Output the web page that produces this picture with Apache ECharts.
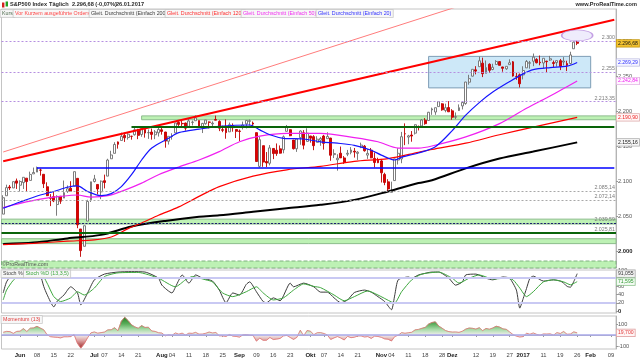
<!DOCTYPE html>
<html>
<head>
<meta charset="utf-8">
<script src="https://cdn.jsdelivr.net/npm/echarts@6/dist/echarts.min.js"></script>
<style>html,body{margin:0;padding:0;background:#fff;}#chart{width:640px;height:360px;}</style>
</head>
<body>
<div id="chart"></div>
<script>
// ---------------- categories (trading days, incl. a few future days) ----------------
const tradingDays = [
  ['2016-05', [24,25,26,27,31]],
  ['2016-06', [1,2,3,6,7,8,9,10,13,14,15,16,17,20,21,22,23,24,27,28,29,30]],
  ['2016-07', [1,5,6,7,8,11,12,13,14,15,18,19,20,21,22,25,26,27,28,29]],
  ['2016-08', [1,2,3,4,5,8,9,10,11,12,15,16,17,18,19,22,23,24,25,26,29,30,31]],
  ['2016-09', [1,2,6,7,8,9,12,13,14,15,16,19,20,21,22,23,26,27,28,29,30]],
  ['2016-10', [3,4,5,6,7,10,11,12,13,14,17,18,19,20,21,24,25,26,27,28,31]],
  ['2016-11', [1,2,3,4,7,8,9,10,11,14,15,16,17,18,21,22,23,25,28,29,30]],
  ['2016-12', [1,2,5,6,7,8,9,12,13,14,15,16,19,20,21,22,23,27,28,29,30]],
  ['2017-01', [3,4,5,6,9,10,11,12,13,17,18,19,20,23,24,25,26,27,30,31]],
  ['2017-02', [1,2,3,6,7,8,9,10]]
];
const dates = tradingDays.flatMap(([m, ds]) => ds.map(d => m + '-' + String(d).padStart(2, '0')));

const xLabels = {
  '2016-06-01':'Jun','2016-06-08':'08','2016-06-15':'15','2016-06-22':'22',
  '2016-07-01':'Jul','2016-07-07':'07','2016-07-14':'14','2016-07-21':'21',
  '2016-08-01':'Aug','2016-08-04':'04','2016-08-11':'11','2016-08-18':'18','2016-08-25':'25',
  '2016-09-01':'Sep','2016-09-09':'09','2016-09-16':'16','2016-09-23':'23',
  '2016-10-03':'Okt','2016-10-07':'07','2016-10-14':'14','2016-10-21':'21',
  '2016-11-01':'Nov','2016-11-04':'04','2016-11-11':'11','2016-11-18':'18','2016-11-28':'28',
  '2016-12-01':'Dez','2016-12-12':'12','2016-12-19':'19','2016-12-27':'27',
  '2017-01-03':'2017','2017-01-11':'11','2017-01-19':'19','2017-01-26':'26',
  '2017-02-01':'Feb','2017-02-09':'09'
};
const monthLabels = ['Jun','Jul','Aug','Sep','Okt','Nov','Dez','2017','Feb'];

// ---------------- price data: [open, high, low, close] ----------------
const ohlc = [
[2052.65,2079.67,2052.65,2076.06],[2078.93,2094.73,2078.93,2090.54],[2091.44,2094.30,2087.08,2090.10],[2090.06,2099.06,2090.06,2099.06],[2100.13,2103.48,2088.66,2096.95],
[2093.94,2100.97,2085.10,2099.33],[2097.71,2105.26,2088.59,2105.26],[2104.07,2104.07,2085.36,2099.13],[2100.83,2113.36,2100.83,2109.41],[2110.18,2119.22,2110.18,2112.13],
[2112.71,2120.55,2112.71,2119.12],[2115.65,2117.64,2107.73,2115.48],[2109.57,2109.57,2089.96,2096.07],[2091.75,2098.12,2078.46,2079.06],[2076.65,2081.30,2064.10,2075.32],
[2077.60,2085.65,2069.80,2071.50],[2066.36,2079.62,2050.37,2077.99],[2078.20,2078.20,2067.31,2071.22],[2075.58,2100.66,2075.58,2083.25],[2085.19,2093.66,2083.02,2088.90],
[2089.75,2099.71,2084.36,2085.45],[2092.80,2113.32,2092.80,2113.32],[2103.81,2103.81,2032.57,2037.41],[2031.45,2031.45,1991.68,2000.54],[2006.67,2036.09,2006.67,2036.09],
[2042.69,2073.13,2042.69,2070.77],[2073.17,2098.94,2070.00,2098.86],
[2099.34,2108.71,2097.90,2102.95],[2095.05,2095.05,2080.86,2088.55],[2084.43,2100.72,2074.02,2099.73],[2100.42,2109.08,2089.39,2097.90],[2106.97,2131.71,2106.97,2129.90],
[2131.72,2143.16,2131.72,2137.16],[2139.50,2155.40,2139.50,2152.14],[2155.81,2156.45,2146.21,2152.43],[2157.88,2169.05,2157.88,2163.75],[2165.13,2169.05,2155.79,2161.74],
[2162.04,2168.35,2159.07,2166.89],[2163.79,2164.63,2159.01,2163.78],[2166.10,2175.63,2164.89,2173.02],[2172.91,2174.56,2159.75,2165.17],[2166.47,2175.11,2163.24,2175.03],
[2173.71,2173.71,2161.95,2168.48],[2168.97,2173.54,2160.18,2169.18],[2169.81,2174.98,2159.07,2166.58],[2166.05,2172.85,2159.74,2170.06],[2168.83,2177.09,2163.49,2173.60],
[2173.15,2178.29,2166.21,2170.84],[2169.94,2170.20,2147.58,2157.03],[2156.81,2163.79,2152.02,2163.79],[2163.51,2168.19,2159.07,2164.25],[2168.79,2182.87,2168.79,2182.87],
[2183.76,2185.44,2177.85,2180.89],[2182.24,2187.66,2178.61,2181.74],[2182.81,2183.41,2172.00,2175.49],[2177.97,2188.45,2177.97,2185.79],[2183.74,2186.28,2179.42,2184.05],
[2186.08,2193.81,2186.08,2190.15],[2186.24,2186.24,2178.14,2178.15],[2177.84,2183.08,2168.50,2182.22],[2181.90,2187.03,2180.46,2187.02],[2184.24,2185.00,2175.13,2183.87],
[2181.58,2185.15,2175.96,2182.64],[2187.81,2193.42,2186.80,2186.90],[2185.09,2186.66,2171.25,2175.44],[2173.29,2179.00,2169.74,2172.47],[2175.10,2187.94,2160.39,2169.04],
[2170.19,2183.48,2170.19,2180.38],[2179.45,2182.27,2170.41,2176.12],[2173.56,2173.79,2161.35,2170.95],
[2171.33,2173.56,2157.09,2170.86],[2177.49,2184.87,2173.59,2179.98],[2181.61,2186.57,2175.10,2186.48],[2185.17,2187.87,2179.07,2186.16],[2182.76,2184.94,2177.49,2181.30],
[2169.08,2169.08,2127.81,2127.81],[2120.86,2163.30,2119.12,2159.04],[2150.47,2150.47,2120.27,2127.02],[2127.86,2141.33,2119.90,2125.77],[2125.36,2151.31,2122.36,2147.26],
[2146.48,2146.48,2131.20,2139.16],[2143.99,2153.61,2135.91,2139.12],[2145.94,2150.80,2139.17,2139.76],[2144.58,2165.11,2139.57,2163.12],[2170.94,2179.99,2170.94,2177.18],
[2173.29,2173.75,2163.97,2164.69],[2158.54,2158.54,2145.04,2146.10],[2146.04,2161.13,2141.55,2159.93],[2161.85,2172.40,2151.79,2171.37],[2168.90,2172.67,2145.20,2151.13],
[2156.51,2175.30,2156.51,2168.27],
[2164.33,2164.41,2154.77,2161.20],[2163.37,2165.46,2144.01,2150.49],[2155.15,2163.95,2155.15,2159.73],[2158.22,2162.93,2150.28,2160.77],[2164.19,2165.86,2144.85,2153.74],
[2160.39,2169.60,2160.39,2163.66],[2161.35,2161.56,2128.84,2136.73],[2137.67,2145.36,2132.77,2139.18],[2130.26,2138.19,2114.72,2132.55],[2139.68,2149.19,2132.98,2132.98],
[2132.95,2135.61,2124.43,2126.50],[2138.31,2144.38,2135.49,2139.60],[2140.81,2148.44,2138.15,2144.29],[2142.51,2147.18,2133.44,2141.34],[2139.43,2142.63,2130.09,2141.16],
[2148.50,2154.79,2146.91,2151.33],[2149.72,2151.44,2141.93,2143.16],[2136.97,2145.73,2131.59,2139.43],[2144.06,2147.13,2132.52,2133.04],[2132.23,2140.72,2119.36,2126.41],
[2129.78,2133.25,2125.53,2126.15],
[2128.68,2131.45,2097.85,2111.72],[2109.43,2111.76,2094.00,2097.94],[2098.80,2102.56,2085.23,2088.66],[2083.79,2099.07,2083.79,2085.18],[2100.59,2132.00,2100.59,2131.52],
[2129.92,2146.87,2123.56,2139.56],[2131.56,2170.10,2125.35,2163.26],[2167.49,2182.30,2151.17,2167.48],[2162.71,2165.92,2152.49,2164.45],[2165.64,2171.36,2156.08,2164.20],
[2168.29,2180.84,2166.38,2180.39],[2177.53,2179.22,2172.20,2176.94],[2178.61,2188.06,2176.65,2187.12],[2186.85,2189.89,2180.38,2181.90],[2186.43,2198.70,2186.43,2198.18],
[2201.56,2204.80,2194.51,2202.94],[2198.55,2204.72,2194.51,2204.72],[2206.27,2213.35,2206.27,2213.35],[2210.21,2211.14,2200.36,2201.72],[2200.76,2210.46,2198.15,2204.66],
[2204.97,2214.10,2198.81,2198.81],
[2200.17,2202.60,2187.44,2191.08],[2191.12,2197.95,2188.37,2191.95],[2200.65,2209.42,2199.97,2204.71],[2207.26,2212.78,2202.21,2212.23],[2210.72,2241.63,2208.93,2241.35],
[2241.13,2251.69,2237.57,2246.19],[2249.73,2259.80,2249.23,2259.53],[2258.83,2264.03,2252.37,2256.96],[2263.32,2277.53,2263.32,2271.72],[2268.35,2276.20,2248.44,2253.28],
[2253.77,2272.12,2253.77,2262.03],[2266.81,2268.05,2254.24,2258.07],[2259.24,2267.47,2258.21,2262.53],[2266.50,2272.56,2266.14,2270.76],[2270.54,2271.23,2265.15,2265.18],
[2262.93,2263.18,2256.08,2260.96],[2260.25,2263.79,2258.84,2263.79],[2266.23,2273.82,2266.15,2268.88],[2270.23,2271.31,2249.11,2249.92],[2249.50,2254.51,2244.56,2249.26],
[2251.61,2253.58,2233.62,2238.83],
[2251.57,2263.88,2245.13,2257.83],[2261.60,2272.82,2261.60,2270.75],[2268.18,2271.50,2260.45,2269.00],[2271.14,2282.10,2264.06,2276.98],[2273.59,2275.49,2268.04,2268.90],
[2269.72,2279.27,2265.27,2268.90],[2268.60,2275.32,2260.83,2275.32],[2271.14,2271.78,2254.25,2270.44],[2272.74,2278.68,2271.51,2274.64],[2269.14,2272.08,2262.81,2267.89],
[2269.14,2272.01,2263.35,2271.89],[2271.90,2274.33,2258.41,2263.69],[2269.96,2276.96,2265.01,2271.31],[2267.78,2271.78,2257.02,2265.20],[2267.88,2284.63,2266.68,2280.07],
[2288.88,2299.55,2288.88,2298.37],[2298.63,2300.99,2294.08,2296.68]
];

// ---------------- moving averages ----------------
const sma20 = [['2016-05-24',2061],['2016-06-01',2070],['2016-06-09',2080],['2016-06-15',2085],['2016-06-21',2091],['2016-06-24',2093],['2016-06-29',2085],['2016-07-06',2079],['2016-07-11',2082],['2016-07-14',2092],['2016-07-19',2109],['2016-07-22',2130],['2016-07-27',2147],['2016-08-03',2161],['2016-08-08',2169],['2016-08-16',2174],['2016-08-24',2178],['2016-09-07',2180],['2016-09-12',2173],['2016-09-15',2166],['2016-09-21',2161],['2016-09-29',2160],['2016-10-06',2156],['2016-10-13',2154],['2016-10-20',2151],['2016-10-27',2144],['2016-11-01',2137],['2016-11-07',2130],['2016-11-09',2134],['2016-11-16',2140],['2016-11-23',2149],['2016-12-01',2172],['2016-12-07',2194],['2016-12-13',2212],['2016-12-19',2227],['2016-12-27',2242],['2017-01-03',2253],['2017-01-06',2259],['2017-01-13',2262],['2017-01-23',2264],['2017-01-26',2269.29]];
const sma50 = [['2016-05-24',2062],['2016-06-01',2068],['2016-06-09',2074],['2016-06-17',2078],['2016-06-24',2080],['2016-06-30',2077],['2016-07-08',2079],['2016-07-15',2087],['2016-07-22',2097],['2016-07-29',2109],['2016-08-08',2120],['2016-08-16',2130],['2016-08-24',2142],['2016-09-01',2156],['2016-09-12',2164],['2016-09-22',2168],['2016-10-06',2168],['2016-10-20',2162],['2016-10-31',2156],['2016-11-08',2147],['2016-11-16',2147],['2016-11-22',2150],['2016-12-07',2163],['2016-12-21',2182],['2017-01-04',2204],['2017-01-12',2219],['2017-01-20',2232],['2017-01-26',2242.84]];
const sma120 = [['2016-05-24',2009],['2016-06-07',2011],['2016-06-21',2014],['2016-07-01',2016],['2016-07-11',2020],['2016-07-18',2032],['2016-07-22',2040],['2016-07-29',2051],['2016-08-08',2063],['2016-08-16',2078],['2016-08-24',2092],['2016-09-08',2107],['2016-09-22',2116],['2016-10-06',2121],['2016-10-20',2128],['2016-11-03',2132],['2016-11-16',2141],['2016-11-22',2145],['2016-12-07',2154],['2016-12-21',2166],['2017-01-06',2177],['2017-01-26',2190.90]];
const sma200 = [['2016-05-24',2010],['2016-06-07',2012],['2016-06-21',2018],['2016-07-06',2023],['2016-07-19',2035],['2016-08-02',2043],['2016-08-16',2049],['2016-08-24',2051],['2016-09-08',2056],['2016-09-22',2061],['2016-10-06',2066],['2016-10-20',2073],['2016-11-03',2085],['2016-11-16',2097],['2016-11-22',2101],['2016-12-07',2118],['2016-12-21',2132],['2017-01-06',2142],['2017-01-26',2155.16]];

// ---------------- drawn objects (trend lines, levels, zones) ----------------
const trendThick = [['2016-05-24',2128.1],['2017-02-10',2330.4]];
const trendThin  = [['2016-05-24',2141.4],['2016-12-27',2373.0]];
const ellipsePoint = [['2017-01-26',2308]];
const dottedLevels = [2300, 2255, 2213.35];
const greyLevels = [2085.14, 2072.14];
const navyLevel = 2039.59;
const greenLevel = 2025.81;
const blueLine = {from:'2016-06-08', value:2119};
const greenLine = {from:'2016-07-19', value:2177};
const bandA = {from:'2016-07-22', low:2187.5, high:2193};
const fullBands = [[2038.5,2045.5],[2010.5,2017.5]];
const bottomBand = [1975.7,1985.7];
const blueBox = {from:'2016-11-21', to:'2017-02-01', low:2233, high:2278};

// ---------------- indicators ----------------
const stochK = [['2016-05-24',44],['2016-05-25',71],['2016-05-27',93],['2016-06-01',97],['2016-06-06',97],['2016-06-08',95],['2016-06-09',88],['2016-06-10',60],['2016-06-13',40],['2016-06-15',10],['2016-06-16',24],['2016-06-20',39],['2016-06-22',59],['2016-06-24',44],['2016-06-27',15],['2016-06-29',44],['2016-07-01',76],['2016-07-07',90],['2016-07-13',95],['2016-07-19',96],['2016-07-25',95],['2016-07-29',80],['2016-08-01',63],['2016-08-04',44],['2016-08-05',58],['2016-08-08',75],['2016-08-09',88],['2016-08-11',68],['2016-08-15',88],['2016-08-17',80],['2016-08-22',73],['2016-08-24',51],['2016-08-26',20],['2016-08-30',44],['2016-09-01',39],['2016-09-06',65],['2016-09-07',71],['2016-09-09',47],['2016-09-13',23],['2016-09-14',20],['2016-09-16',32],['2016-09-20',25],['2016-09-23',68],['2016-09-26',59],['2016-09-29',68],['2016-10-04',59],['2016-10-06',46],['2016-10-10',46],['2016-10-12',32],['2016-10-14',20],['2016-10-18',27],['2016-10-20',45],['2016-10-25',51],['2016-10-27',46],['2016-10-31',35],['2016-11-02',23],['2016-11-04',3],['2016-11-07',40],['2016-11-08',76],['2016-11-11',83],['2016-11-14',80],['2016-11-16',88],['2016-11-17',90],['2016-11-22',95],['2016-11-25',95],['2016-11-30',80],['2016-12-02',63],['2016-12-06',71],['2016-12-07',88],['2016-12-12',90],['2016-12-15',80],['2016-12-19',76],['2016-12-22',83],['2016-12-27',80],['2016-12-29',51],['2016-12-30',7],['2017-01-03',30],['2017-01-04',55],['2017-01-05',80],['2017-01-06',85],['2017-01-11',73],['2017-01-17',76],['2017-01-19',73],['2017-01-20',68],['2017-01-23',60],['2017-01-24',58],['2017-01-25',72],['2017-01-26',91.055]];
const stochD = [['2016-05-24',27],['2016-05-25',51],['2016-05-27',75],['2016-06-01',88],['2016-06-06',95],['2016-06-09',94],['2016-06-13',68],['2016-06-15',35],['2016-06-17',23],['2016-06-22',32],['2016-06-24',47],['2016-06-28',39],['2016-07-01',56],['2016-07-07',84],['2016-07-13',93],['2016-07-21',94],['2016-07-29',80],['2016-08-05',59],['2016-08-10',76],['2016-08-12',84],['2016-08-18',76],['2016-08-22',71],['2016-08-25',44],['2016-08-30',35],['2016-09-06',47],['2016-09-09',59],['2016-09-13',44],['2016-09-16',27],['2016-09-21',32],['2016-09-26',51],['2016-09-29',66],['2016-10-04',60],['2016-10-06',57],['2016-10-12',39],['2016-10-17',25],['2016-10-20',35],['2016-10-26',49],['2016-10-31',39],['2016-11-04',22],['2016-11-07',20],['2016-11-09',47],['2016-11-14',76],['2016-11-17',90],['2016-11-25',95],['2016-12-01',80],['2016-12-05',68],['2016-12-08',80],['2016-12-13',88],['2016-12-19',78],['2016-12-23',80],['2016-12-28',76],['2016-12-30',56],['2017-01-04',35],['2017-01-06',47],['2017-01-11',71],['2017-01-17',76],['2017-01-20',71],['2017-01-24',64],['2017-01-26',71.595]];
const momentum = [
25,33,31,15,33,35,59,32,62,65,79,63,48,
3,-15,-19,-21,-26,-16,-16,-14,4,-75,
-119,-79,-25,20,28,17,22,27,47,48,
67,39,126,161,131,93,74,62,86,69,
71,37,33,21,18,-7,2,-3,19,8,
17,0,17,15,24,8,9,16,27,19,
23,-7,-8,-13,5,-10,-13,-19,2,4,
-1,-3,-55,-28,-48,-47,-22,-41,-37,-31,
-8,-3,-22,-40,-21,44,-8,41,35,3,
21,22,14,1,-40,-26,-14,-27,-45,-12,
-24,-20,-9,-8,-18,-14,-31,-10,-13,-21,
-35,-38,-54,-13,-2,22,16,21,25,47,
51,61,70,100,114,120,82,62,41,31,
27,28,24,35,54,64,61,54,67,40,
60,53,64,80,73,56,52,28,4,-10,
-18,-14,17,7,19,6,-2,10,9,11,
-1,22,14,32,7,9,29,19.7
];

// ---------------- axis ticks ----------------
const priceTicks = [2000,2050,2100,2150,2200,2250,2300];
const stochTicks = [0,20,40,60,80,100];
const momTicks = [-100,0,100];

// ---------------- helpers ----------------
const FONT = '"Liberation Sans", Arial, sans-serif';
function de(v, d) {
  const s = Math.abs(v).toFixed(d);
  const parts = s.split('.');
  const ip = parts[0].replace(/\B(?=(\d{3})+(?!\d))/g, '.');
  return (v < 0 ? '-' : '') + ip + (parts[1] ? ',' + parts[1] : '');
}
const lastDate = dates[dates.length - 1];
const candleData = ohlc.map(r => [r[0], r[3], r[2], r[1]]);
const lastClose = ohlc[ohlc.length - 1][3];
const lastOf = arr => arr[arr.length - 1][1];

function levelLine(value, color, type, width, decimals) {
  return { yAxis: value, lineStyle: {color: color, type: type, width: width},
    label: {show: true, position: 'insideEndTop', formatter: de(value, decimals), color: '#7a7a7a', fontSize: 5.3, distance: 1, fontFamily: FONT} };
}
function valueBox(value, text, color, bg, border) {
  return { yAxis: value, lineStyle: {color: 'rgba(0,0,0,0)', width: 0.1},
    label: {show: true, position: 'end', formatter: text, color: color, backgroundColor: bg, borderColor: border, borderWidth: 0.8,
      padding: [1.2, 1.2, 0.4, 1.2], fontSize: 5.1, distance: 0.8, fontFamily: FONT} };
}
function xAxisCfg(gi, show) {
  const isLbl = (i, v) => Object.prototype.hasOwnProperty.call(xLabels, v);
  return {
    type: 'category', gridIndex: gi, data: dates, boundaryGap: true, show: show,
    axisLine: {show: show, lineStyle: {color: '#b4b4b4'}},
    axisTick: {show: show, interval: isLbl, alignWithLabel: true, length: 2, lineStyle: {color: '#999'}},
    axisLabel: {show: show, interval: isLbl, hideOverlap: false, margin: 3, fontSize: 5.8, color: '#444', fontFamily: FONT,
      formatter: v => { const t = xLabels[v]; return monthLabels.indexOf(t) >= 0 ? '{b|' + t + '}' : t; },
      rich: {b: {fontWeight: 'bold', fontSize: 6, color: '#222', fontFamily: FONT}}},
    splitLine: {show: false}
  };
}
function yAxisCfg(gi, min, max, ticks, fmt) {
  return {
    type: 'value', gridIndex: gi, position: 'right', min: min, max: max,
    axisLine: {show: true, lineStyle: {color: '#b4b4b4'}},
    axisTick: {show: true, customValues: ticks, length: 2, lineStyle: {color: '#999'}},
    axisLabel: {customValues: ticks, formatter: fmt, fontSize: 5.6, color: '#555', margin: 2, fontFamily: FONT,
      rich: {b: {fontWeight: 'bold', fontSize: 5.8, color: '#222', fontFamily: FONT}}},
    splitLine: {show: false}
  };
}
function txt(x, y, text, fill, opt) {
  opt = opt || {};
  const st = {text: text, fill: fill, font: opt.font || ('5.3px ' + FONT), verticalAlign: 'middle', align: opt.align || 'left'};
  if (opt.box) { st.backgroundColor = opt.bg || '#f7f7f7'; st.borderColor = opt.border || '#c8c8c8'; st.borderWidth = 0.8; st.padding = [1.2, 1.5, 0.6, 1.5]; }
  return {type: 'text', x: x, y: y, z: 100, silent: true, style: st};
}

const gridBase = {left: 1.5, right: 24, show: true, backgroundColor: '#fff', borderColor: '#c4c4c4', borderWidth: 1, outerBoundsMode: 'none'};

const option = {
  animation: false,
  backgroundColor: '#fff',
  textStyle: {fontFamily: FONT},
  grid: [
    Object.assign({}, gridBase, {top: 9, height: 259}),
    Object.assign({}, gridBase, {top: 270, height: 43}),
    Object.assign({}, gridBase, {top: 316, height: 33})
  ],
  xAxis: [xAxisCfg(0, false), xAxisCfg(1, false), xAxisCfg(2, true)],
  yAxis: [
    yAxisCfg(0, 1975.7, 2345.7, priceTicks, v => v === 2000 ? '{b|' + de(v, 0) + '}' : de(v, 0)),
    yAxisCfg(1, -4.9, 100, stochTicks, v => v === 0 ? '{b|0}' : String(v)),
    yAxisCfg(2, -127, 173, momTicks, v => String(v))
  ],
  visualMap: [{
    show: false, type: 'continuous', seriesIndex: 11, min: -150, max: 150,
    inRange: {color: ['#8c2424', '#b04a4a', '#dca2a2', '#f2eeee', '#a9dca9', '#5cae5c', '#2e8a2e']}
  }],
  series: [
    { // 0: zones and levels (marker carrier)
      type: 'line', xAxisIndex: 0, yAxisIndex: 0, data: [], silent: true, z: 1,
      markArea: {
        silent: true, label: {show: false},
        itemStyle: {color: '#bdf1b4', borderColor: '#8cbc8c', borderWidth: 1},
        data: [
          [{xAxis: bandA.from, yAxis: bandA.low}, {yAxis: bandA.high}],
          [{yAxis: fullBands[0][0]}, {yAxis: fullBands[0][1]}],
          [{yAxis: fullBands[1][0]}, {yAxis: fullBands[1][1]}],
          [{yAxis: bottomBand[0], itemStyle: {borderType: 'dashed', borderColor: '#7fb07f'}}, {yAxis: bottomBand[1]}],
          [{xAxis: blueBox.from, yAxis: blueBox.low, itemStyle: {color: '#cde8f8', borderColor: '#7e9db6'}}, {xAxis: blueBox.to, yAxis: blueBox.high}]
        ]
      },
      markLine: {
        silent: true, symbol: ['none', 'none'], label: {show: false},
        data: [
          levelLine(dottedLevels[0], '#b58fe0', [2, 2], 1, 0),
          levelLine(dottedLevels[1], '#b58fe0', [2, 2], 1, 0),
          levelLine(dottedLevels[2], '#b58fe0', [2, 2], 1, 2),
          levelLine(greyLevels[0], '#a8a8a8', [2, 2], 1, 2),
          levelLine(greyLevels[1], '#a8a8a8', [2, 2], 1, 2),
          levelLine(navyLevel, '#1c1c70', [2, 1.5], 1.2, 2),
          levelLine(greenLevel, '#0a640a', 'solid', 2, 2),
          [{coord: [blueLine.from, blueLine.value], lineStyle: {color: '#0000ff', width: 1.5, type: 'solid'}}, {coord: [lastDate, blueLine.value]}],
          [{coord: [greenLine.from, greenLine.value], lineStyle: {color: '#0a640a', width: 2, type: 'solid'}}, {coord: [lastDate, greenLine.value]}],
          valueBox(lastClose, de(lastClose, 2), '#111', '#f2c230', '#c89a10'),
          valueBox(lastOf(sma20), de(lastOf(sma20), 2), '#2b2bff', '#f6f6ff', '#b8b8e0'),
          valueBox(lastOf(sma50), de(lastOf(sma50), 2), '#f020f0', '#fff6ff', '#e0b0e0'),
          valueBox(lastOf(sma120), de(lastOf(sma120), 2), '#ee2020', '#fff6f6', '#e0b0b0'),
          valueBox(lastOf(sma200), de(lastOf(sma200), 2), '#111', '#f6f6f6', '#b0b0b0')
        ]
      }
    },
    { // 1: candles
      type: 'candlestick', xAxisIndex: 0, yAxisIndex: 0, data: candleData, barWidth: 2.4, z: 2,
      itemStyle: {color: '#ffffff', color0: '#e00000', borderColor: '#6e6e6e', borderColor0: '#c00000', borderWidth: 0.9}
    },
    {type: 'line', name: 'SMA200', xAxisIndex: 0, yAxisIndex: 0, data: sma200, smooth: 0.3, symbol: 'none', z: 3, lineStyle: {color: '#000000', width: 2}},
    {type: 'line', name: 'SMA120', xAxisIndex: 0, yAxisIndex: 0, data: sma120, smooth: 0.3, symbol: 'none', z: 3, lineStyle: {color: '#ff0000', width: 1.2}},
    {type: 'line', name: 'SMA50', xAxisIndex: 0, yAxisIndex: 0, data: sma50, smooth: 0.3, symbol: 'none', z: 3, lineStyle: {color: '#f020f0', width: 1.2}},
    {type: 'line', name: 'SMA20', xAxisIndex: 0, yAxisIndex: 0, data: sma20, smooth: 0.3, symbol: 'none', z: 3, lineStyle: {color: '#1515ff', width: 1.2}},
    {type: 'line', name: 'trend1', xAxisIndex: 0, yAxisIndex: 0, data: trendThick, symbol: 'none', z: 3, lineStyle: {color: '#ff0000', width: 2}},
    {type: 'line', name: 'trend2', xAxisIndex: 0, yAxisIndex: 0, data: trendThin, symbol: 'none', z: 3, lineStyle: {color: '#ff7c7c', width: 1}},
    {type: 'scatter', xAxisIndex: 0, yAxisIndex: 0, data: ellipsePoint, z: 4, silent: true,
      symbol: 'path://M0 10A20 10 0 1 1 40 10A20 10 0 1 1 0 10Z', symbolSize: [31, 11],
      itemStyle: {color: '#ebe7fb', borderColor: '#b689dd', borderWidth: 1}},
    { // 9: stoch %K
      type: 'line', xAxisIndex: 1, yAxisIndex: 1, data: stochK, smooth: 0.2, symbol: 'none', z: 3,
      lineStyle: {color: '#3c3c3c', width: 1},
      markLine: {
        silent: true, symbol: ['none', 'none'], label: {show: false},
        data: [
          {yAxis: 80, lineStyle: {color: '#c9c9f3', width: 2, type: 'solid'}},
          {yAxis: 20, lineStyle: {color: '#c9c9f3', width: 2, type: 'solid'}},
          valueBox(lastOf(stochK), de(lastOf(stochK), 3), '#333', '#f2f2f2', '#a8a8a8'),
          valueBox(lastOf(stochD), de(lastOf(stochD), 3), '#2f9a2f', '#f3fbf3', '#8fc28f')
        ]
      }
    },
    {type: 'line', xAxisIndex: 1, yAxisIndex: 1, data: stochD, smooth: 0.2, symbol: 'none', z: 3, lineStyle: {color: '#3fa83f', width: 1}},
    { // 11: momentum area
      type: 'line', xAxisIndex: 2, yAxisIndex: 2, data: momentum, symbol: 'none', z: 2,
      lineStyle: {width: 0.5}, areaStyle: {opacity: 1}
    },
    { // 12: momentum stroke
      type: 'line', xAxisIndex: 2, yAxisIndex: 2, data: momentum, symbol: 'none', z: 3,
      lineStyle: {color: '#de7070', width: 0.8},
      markLine: {
        silent: true, symbol: ['none', 'none'], label: {show: false},
        data: [
          {yAxis: 0, lineStyle: {color: '#a9a9ea', width: 1.5, type: 'solid'}},
          valueBox(momentum[momentum.length - 1], de(momentum[momentum.length - 1], 3), '#e23a3a', '#fff5f5', '#e0a0a0')
        ]
      }
    }
  ],
  graphic: [
    {type: 'rect', z: 100, silent: true, shape: {x: 2, y: 2.5, width: 2.4, height: 5}, style: {fill: '#d42020'}},
    {type: 'rect', z: 100, silent: true, shape: {x: 5.6, y: 1.5, width: 2.4, height: 5}, style: {fill: '#22a022'}},
    txt(10, 4.8, 'S&P500 Index', '#2a2a2a', {font: 'bold 5.6px ' + FONT}),
    txt(49, 4.8, 'Täglich', '#2a2a2a', {font: 'bold 5.6px ' + FONT}),
    txt(72, 4.8, '2.296,68 (-0,07%)', '#2a2a2a', {font: 'bold 5.6px ' + FONT}),
    txt(116, 4.8, '26.01.2017', '#2a2a2a', {font: 'bold 5.6px ' + FONT}),
    txt(637, 4.8, 'www.ProRealTime.com', '#2a2a2a', {font: 'bold 5.6px ' + FONT, align: 'right'}),
    txt(0.5, 13.5, 'Kurs', '#4d6b4d', {box: true}),
    txt(13.5, 13.5, 'Vor Kurzem ausgeführte Orders', '#ff4545', {box: true}),
    txt(89.5, 13.5, 'Gleit. Durchschnitt (Einfach 200)', '#3a3a3a', {box: true}),
    txt(165.5, 13.5, 'Gleit. Durchschnitt (Einfach 120)', '#ff3030', {box: true}),
    txt(241.5, 13.5, 'Gleit. Durchschnitt (Einfach 50)', '#f030f0', {box: true}),
    txt(316.5, 13.5, 'Gleit. Durchschnitt (Einfach 20)', '#3030ff', {box: true}),
    txt(2, 265, '©ProRealTime.com', '#555', {font: '5.3px ' + FONT}),
    txt(1.5, 273.8, 'Stoch %K', '#3c3c3c', {box: true}),
    txt(24, 273.8, 'Stoch %D (13,3,5)', '#3fa83f', {box: true}),
    txt(1.5, 319.5, 'Momentum (13)', '#e04040', {box: true})
  ]
};

const chart = echarts.init(document.getElementById('chart'), null, {renderer: 'canvas'});
chart.setOption(option);
</script>
</body>
</html>
